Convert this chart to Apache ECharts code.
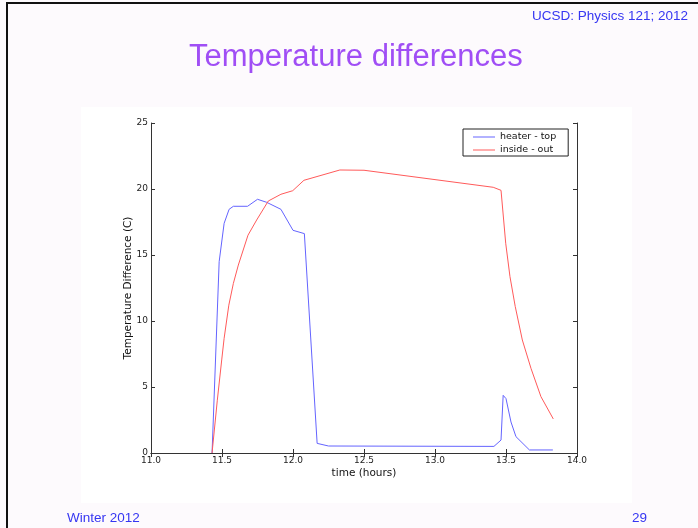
<!DOCTYPE html>
<html><head><meta charset="utf-8">
<script src="https://cdn.jsdelivr.net/npm/echarts@6/dist/echarts.min.js"></script>
<style>html,body{margin:0;padding:0;background:#fdfafd}#c{width:698px;height:528px}</style>
</head><body><div id="c"></div>
<script>
const heaterTime = [11.43, 11.48, 11.515, 11.55, 11.58, 11.68, 11.75, 11.815, 11.915, 12.0, 12.08, 12.17, 12.25, 13.415, 13.465, 13.48, 13.5, 13.535, 13.57, 13.665, 13.83];
const heaterVal  = [0, 14.5, 17.4, 18.46, 18.69, 18.69, 19.22, 18.99, 18.46, 16.87, 16.62, 0.73, 0.53, 0.5, 0.98, 4.37, 4.12, 2.35, 1.24, 0.23, 0.23];
const insideTime = [11.43, 11.467, 11.498, 11.515, 11.548, 11.58, 11.615, 11.683, 11.744, 11.826, 11.915, 11.998, 12.077, 12.33, 12.5, 13.41, 13.465, 13.498, 13.528, 13.565, 13.615, 13.676, 13.746, 13.833];
const insideVal  = [0, 4.0, 7.05, 8.69, 11.2, 12.85, 14.24, 16.5, 17.65, 19.09, 19.6, 19.87, 20.66, 21.44, 21.42, 20.13, 19.9, 15.89, 13.36, 11.1, 8.56, 6.41, 4.27, 2.58];
const xTicks = ['11.0','11.5','12.0','12.5','13.0','13.5','14.0'];
const seriesNames = ['heater - top', 'inside - out'];

const zip = (a, b) => a.map((v, i) => [v, b[i]]);
const tickFont = {fontFamily: 'DejaVu Sans', fontSize: 9, color: '#222'};
const axisLine = {lineStyle: {color: '#333', width: 1}};
const chart = echarts.init(document.getElementById('c'), null, {renderer: 'canvas'});
chart.setOption({
  animation: false,
  backgroundColor: '#fdfafd',
  graphic: [
    {type: 'rect', z: -10, shape: {x: 81, y: 107, width: 551, height: 396}, style: {fill: '#ffffff'}},
    {type: 'line', shape: {x1: 6, y1: 3, x2: 698, y2: 3}, style: {stroke: '#111', lineWidth: 2}},
    {type: 'line', shape: {x1: 7, y1: 3, x2: 7, y2: 528}, style: {stroke: '#111', lineWidth: 2}},
    {type: 'text', left: 189, top: 42, style: {text: 'Temperature differences', font: '31px "Liberation Sans", Arial, sans-serif', fill: '#a04ef5', shadowColor: 'rgba(0,0,0,0.35)', shadowBlur: 3, shadowOffsetX: 2, shadowOffsetY: 2}},
    {type: 'text', right: 10, top: 9, style: {text: 'UCSD: Physics 121; 2012', font: '13.5px "Liberation Sans", Arial, sans-serif', fill: '#3636f2'}},
    {type: 'text', left: 67, top: 511, style: {text: 'Winter 2012', font: '13.5px "Liberation Sans", Arial, sans-serif', fill: '#3636f2'}},
    {type: 'text', left: 632, top: 511, style: {text: '29', font: '13.5px "Liberation Sans", Arial, sans-serif', fill: '#3636f2'}}
  ],
  grid: {left: 151, top: 123, width: 426, height: 330, containLabel: false},
  legend: {
    orient: 'vertical', left: 463, top: 129,
    data: seriesNames, icon: 'rect', itemWidth: 22, itemHeight: 1, itemGap: 3,
    padding: [3, 12, 1, 10], borderColor: '#222', borderWidth: 1, backgroundColor: '#fff',
    textStyle: {fontFamily: 'DejaVu Sans', fontSize: 9.5, color: '#111', lineHeight: 9}
  },
  xAxis: [
    {type: 'value', min: 11, max: 14, interval: 0.5, position: 'bottom',
     axisLine: axisLine, axisTick: {inside: true, length: 4, lineStyle: {color: '#333'}},
     axisLabel: Object.assign({margin: 3, formatter: (v) => xTicks[Math.round((v - 11) * 2)]}, tickFont),
     splitLine: {show: false},
     name: 'time (hours)', nameLocation: 'middle', nameGap: 15, nameMoveOverlap: false,
     nameTextStyle: {fontFamily: 'DejaVu Sans', fontSize: 10.5, color: '#111'}},
    {type: 'value', min: 11, max: 14, interval: 0.5, position: 'top',
     axisLine: axisLine, axisTick: {inside: true, length: 4, lineStyle: {color: '#333'}},
     axisLabel: {show: false}, splitLine: {show: false}}
  ],
  yAxis: [
    {type: 'value', min: 0, max: 25, interval: 5, position: 'left',
     axisLine: Object.assign({onZero: false}, axisLine), axisTick: {inside: true, length: 4, lineStyle: {color: '#333'}},
     axisLabel: Object.assign({margin: 3}, tickFont), splitLine: {show: false},
     name: 'Temperature Difference (C)', nameLocation: 'middle', nameGap: 17, nameRotate: 90, nameMoveOverlap: false,
     nameTextStyle: {fontFamily: 'DejaVu Sans', fontSize: 10.5, color: '#111'}},
    {type: 'value', min: 0, max: 25, interval: 5, position: 'right',
     axisLine: axisLine, axisTick: {inside: true, length: 4, lineStyle: {color: '#333'}},
     axisLabel: {show: false}, splitLine: {show: false}}
  ],
  series: [
    {name: seriesNames[0], type: 'line', data: zip(heaterTime, heaterVal), showSymbol: false, symbol: 'none',
     lineStyle: {color: '#6464ff', width: 1}, itemStyle: {color: '#6464ff'}},
    {name: seriesNames[1], type: 'line', data: zip(insideTime, insideVal), showSymbol: false, symbol: 'none',
     lineStyle: {color: '#ff5a5a', width: 1}, itemStyle: {color: '#ff5a5a'}}
  ]
});
</script></body></html>
